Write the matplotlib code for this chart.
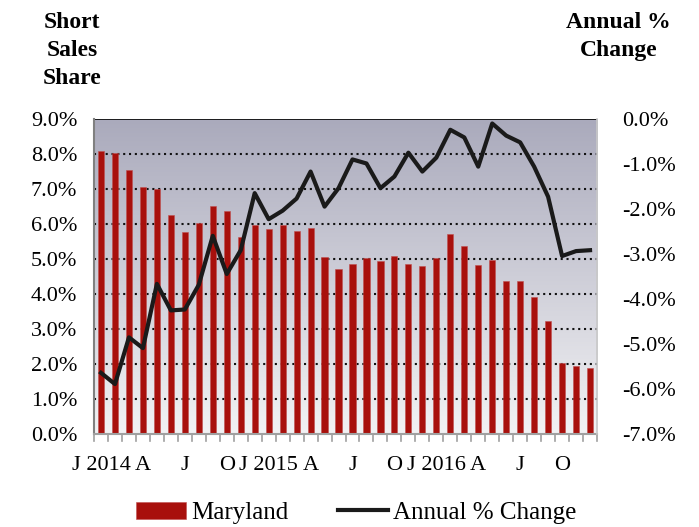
import matplotlib.pyplot as plt
import numpy as np

# monthly data, Jan 2014 - Dec 2016
months = list(range(36))
tick_labels = ["J 2014", "A", "J", "O", "J 2015", "A", "J", "O", "J 2016", "A", "J", "O"]
share = [8.08, 8.02, 7.54, 7.06, 6.99, 6.25, 5.78, 6.01, 6.51, 6.37, 5.63, 5.96,
         5.85, 5.96, 5.79, 5.89, 5.05, 4.72, 4.86, 5.01, 4.94, 5.08, 4.86, 4.79,
         5.01, 5.71, 5.38, 4.82, 4.97, 4.35, 4.35, 3.91, 3.22, 2.01, 1.94, 1.87]
annual_change = [-5.65, -5.90, -4.86, -5.10, -3.67, -4.26, -4.24, -3.69, -2.60, -3.45, -2.92, -1.65,
                 -2.23, -2.04, -1.77, -1.17, -1.95, -1.54, -0.90, -0.99, -1.54, -1.28, -0.75, -1.17,
                 -0.86, -0.24, -0.41, -1.06, -0.10, -0.37, -0.52, -1.06, -1.73, -3.05, -2.94, -2.92]

plt.rcParams['font.family'] = ['Liberation Serif', 'DejaVu Serif']

fig = plt.figure(figsize=(6.99, 5.27), dpi=100)
ax = fig.add_axes([0.1345, 0.1774, 0.7196, 0.5968])

# gradient background
grad = np.linspace(0, 1, 256).reshape(-1, 1)
top = np.array([170, 170, 188]) / 255
bot = np.array([242, 242, 244]) / 255
img = top[None, None, :] * (1 - grad[:, :, None]) + bot[None, None, :] * grad[:, :, None]
ax.imshow(img, extent=[0, 1, 0, 1], transform=ax.transAxes, aspect='auto', zorder=0)

ax.bar(months, share, width=0.44, color='#a8100c', edgecolor='#c05050', linewidth=0.4,
       zorder=2, label='Maryland')
ax.set_xlim(-0.5, 35.5)
ax.set_ylim(0, 9)
ax.set_yticks(np.arange(0, 9.5, 1))
ax.set_yticklabels([f"{v:.1f}%" for v in np.arange(0, 9.5, 1)], fontsize=16)
for v in range(1, 9):
    ax.axhline(v, color='#111111', linestyle=(0, (1, 1.8)), linewidth=1.5, zorder=1)
ax.axhline(9, color='#111111', linewidth=1.3, zorder=1)

ax.set_xticks(range(0, 36, 3))
ax.set_xticklabels(tick_labels, fontsize=16)
ax.tick_params(axis='x', length=0, pad=16)
ax.tick_params(axis='y', length=0, pad=12)
for b in np.arange(-0.5, 36, 1):
    ax.plot([b, b], [0, -0.22], color='#a0a0a0', linewidth=1.2, clip_on=False, zorder=1)

for s in ['top', 'right']:
    ax.spines[s].set_visible(False)
ax.spines['left'].set_color('#808080')
ax.spines['left'].set_linewidth(1.5)
ax.spines['bottom'].set_color('#a0a0a0')
ax.spines['bottom'].set_linewidth(1.5)

ax2 = ax.twinx()
ax2.plot(months, annual_change, color='#1a1a1a', linewidth=3, zorder=3, label='Annual % Change')
ax2.set_ylim(-7, 0)
ax2.set_yticks(np.arange(-7, 0.5, 1))
ax2.set_yticklabels([f"{v:.1f}%" for v in np.arange(-7, 0.5, 1)], fontsize=16)
ax2.tick_params(axis='y', length=0, pad=18)
for s in ['top', 'left', 'bottom']:
    ax2.spines[s].set_visible(False)
ax2.spines['right'].set_color('#c8c8c8')
ax2.spines['right'].set_linewidth(1.2)

fig.text(0.103, 0.978, "Short\nSales\nShare", ha='center', va='top', fontsize=17,
         fontweight='bold', linespacing=1.45)
fig.text(0.885, 0.978, "Annual %\nChange", ha='center', va='top', fontsize=17,
         fontweight='bold', linespacing=1.45)

h1, l1 = ax.get_legend_handles_labels()
h2, l2 = ax2.get_legend_handles_labels()
fig.legend(h1 + h2, l1 + l2, loc='center', bbox_to_anchor=(0.51, 0.027), ncol=2,
           frameon=False, fontsize=18, handlelength=2.0, handletextpad=0.2,
           columnspacing=2.0)

fig.savefig('out.png', dpi=100)
